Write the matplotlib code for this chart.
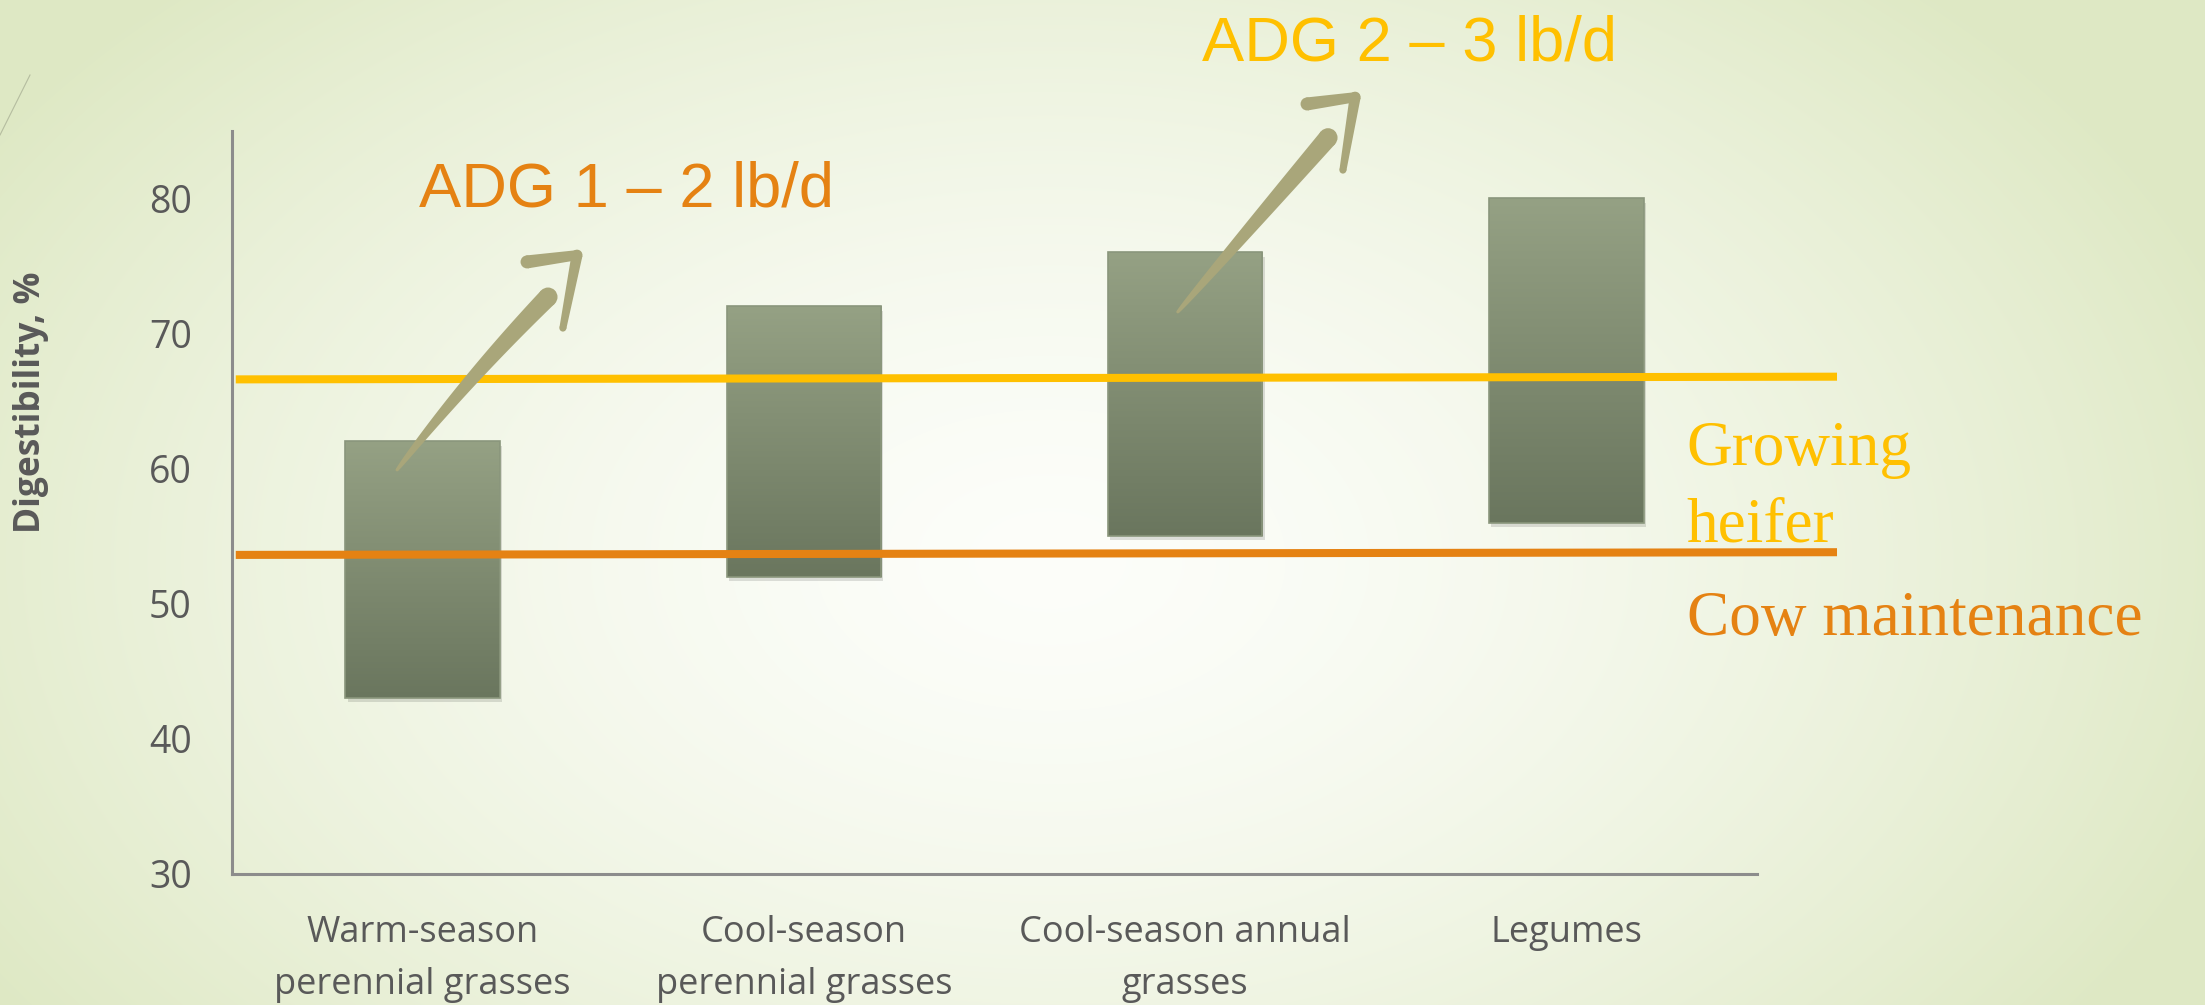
import numpy as np
import matplotlib
matplotlib.use("Agg")
import matplotlib.pyplot as plt
from matplotlib.patches import Polygon, Circle, Rectangle
from matplotlib.transforms import IdentityTransform
from matplotlib.colors import LinearSegmentedColormap

# data
categories = ["Warm-season\nperennial grasses", "Cool-season\nperennial grasses",
              "Cool-season annual\ngrasses", "Legumes"]
low = [43, 52, 55, 56]
high = [62, 72, 76, 80]
yticks = [30, 40, 50, 60, 70, 80]
heifer_line = [66.6, 66.8]   # left / right end
cow_line = [53.6, 53.8]
line_span = [-0.49, 3.71]

# arrows: (tail, shaft end, head left, head corner, head bottom) in data coords
arrows = [
    [(-0.067, 59.9), (0.329, 72.7), (0.274, 75.3), (0.405, 75.8), (0.368, 70.4)],
    [(1.981, 71.6), (2.375, 84.5), (2.320, 87.0), (2.446, 87.5), (2.414, 82.1)],
]
arrow_bend = [0.03, 0.0]

GRAY = "#595959"
YELLOW = "#FFC000"
ORANGE = "#E58213"
ARROW = "#a9a67a"

fig = plt.figure(figsize=(22.05, 10.05), dpi=100)

# slide background: soft radial gradient
bg = fig.add_axes([0, 0, 1, 1], zorder=-10)
H, W = 1005, 2205
yy, xx = np.mgrid[0:H, 0:W]
d = np.sqrt(((xx - 1050) / 1250.0) ** 2 + ((yy - 560) / 800.0) ** 2)
t = np.clip(d, 0, 1) ** 1.5
edge = np.array([0.872, 0.912, 0.77])
center = np.array([0.99, 0.995, 0.98])
img = center + (edge - center) * t[..., None]
bg.imshow(img, aspect="auto", extent=[0, 1, 0, 1])
bg.plot([0, 30 / W], [1 - 135 / H, 1 - 75 / H], color="#b5bc9f", lw=0.8)
bg.set_xlim(0, 1)
bg.set_ylim(0, 1)
bg.axis("off")

ax = fig.add_axes([0.1052, 0.1308, 0.6916, 0.7389])
ax.patch.set_alpha(0)
x = np.arange(len(categories))
heights = np.subtract(high, low)

# shadows
for xi, lo, hh in zip(x, low, heights):
    ax.add_patch(Rectangle((xi - 0.2025 + 0.006, lo - 0.3), 0.405, hh, color="black",
                           alpha=0.12, lw=0, zorder=1.8))

bars = ax.bar(x, heights, bottom=low, width=0.405, color="none",
              edgecolor="#8a967c", linewidth=1.2, zorder=2.1)
cmap = LinearSegmentedColormap.from_list("bar", ["#6a765e", "#95a184"])
grad = np.linspace(0, 1, 256).reshape(-1, 1)
for b in bars:
    x0, y0 = b.get_x(), b.get_y()
    im = ax.imshow(grad, extent=[x0, x0 + b.get_width(), y0, y0 + b.get_height()],
                   origin="lower", cmap=cmap, aspect="auto", zorder=2)
    im.set_clip_path(b)

ax.plot(line_span, heifer_line, color=YELLOW, lw=5.8, solid_capstyle="butt",
        clip_on=False, zorder=3)
ax.plot(line_span, cow_line, color=ORANGE, lw=5.8, solid_capstyle="butt",
        clip_on=False, zorder=3)

ax.set_xlim(-0.5, 3.5)
ax.set_ylim(30, 85)
ax.set_yticks(yticks)
ax.set_xticks(x, categories)
for s in ["top", "right"]:
    ax.spines[s].set_visible(False)
for s in ["left", "bottom"]:
    ax.spines[s].set_color("#8c8c8c")
    ax.spines[s].set_linewidth(2.2)
ax.tick_params(axis="y", length=0, pad=29, labelsize=27, labelcolor=GRAY)
ax.tick_params(axis="x", length=0, pad=30, labelsize=26, labelcolor=GRAY)
for lab in ax.get_yticklabels():
    lab.set_family("Open Sans")
for lab in ax.get_xticklabels():
    lab.set_family("Open Sans")
    lab.set_linespacing(1.6)

ax.set_ylabel("Digestibility, %", fontsize=25.5, fontweight="bold", color=GRAY,
              family="Open Sans")
ax.yaxis.label.set_verticalalignment("center")
ax.yaxis.set_label_coords(-0.1318, 0.634)

# annotations
ax.text(-0.009, 79.44, "ADG 1 – 2 lb/d", color=ORANGE, fontsize=45.5,
        family="Liberation Sans", ha="left", va="baseline")
ax.text(2.044, 90.19, "ADG 2 – 3 lb/d", color=YELLOW, fontsize=45.5,
        family="Liberation Sans", ha="left", va="baseline")
ax.text(3.316, 60.26, "Growing", color=YELLOW, fontsize=45.5,
        family="Liberation Serif", ha="left", va="baseline")
ax.text(3.316, 54.56, "heifer", color=YELLOW, fontsize=45.5,
        family="Liberation Serif", ha="left", va="baseline")
ax.text(3.316, 47.67, "Cow maintenance", color=ORANGE, fontsize=45.5,
        family="Liberation Serif", ha="left", va="baseline")


def brush(p0, p1, w0, w1, bend=0.0, power=1.0):
    a = ax.transData.transform(p0)
    b = ax.transData.transform(p1)
    v = b - a
    L = np.hypot(*v)
    n = np.array([-v[1], v[0]]) / L
    c = (a + b) / 2 + n * bend * L
    s = np.linspace(0, 1, 60)[:, None]
    pts = (1 - s) ** 2 * a + 2 * (1 - s) * s * c + s ** 2 * b
    tang = np.gradient(pts, axis=0)
    tang /= np.hypot(tang[:, 0], tang[:, 1])[:, None]
    nn = np.column_stack([-tang[:, 1], tang[:, 0]])
    wid = (w0 + (w1 - w0) * s ** power) / 2
    poly = np.vstack([pts + nn * wid, (pts - nn * wid)[::-1]])
    kw = dict(transform=IdentityTransform(), color=ARROW, lw=0, zorder=4, clip_on=False)
    ax.add_patch(Polygon(poly, closed=True, **kw))
    ax.add_patch(Circle(a, w0 / 2, **kw))
    ax.add_patch(Circle(b, w1 / 2, **kw))


for (tail, end, hl, hc, hb), bend in zip(arrows, arrow_bend):
    brush(tail, end, 3, 19, bend, power=0.7)
    brush(hl, hc, 13, 10)
    brush(hc, hb, 11, 7)

fig.savefig("out.png", dpi=100)
